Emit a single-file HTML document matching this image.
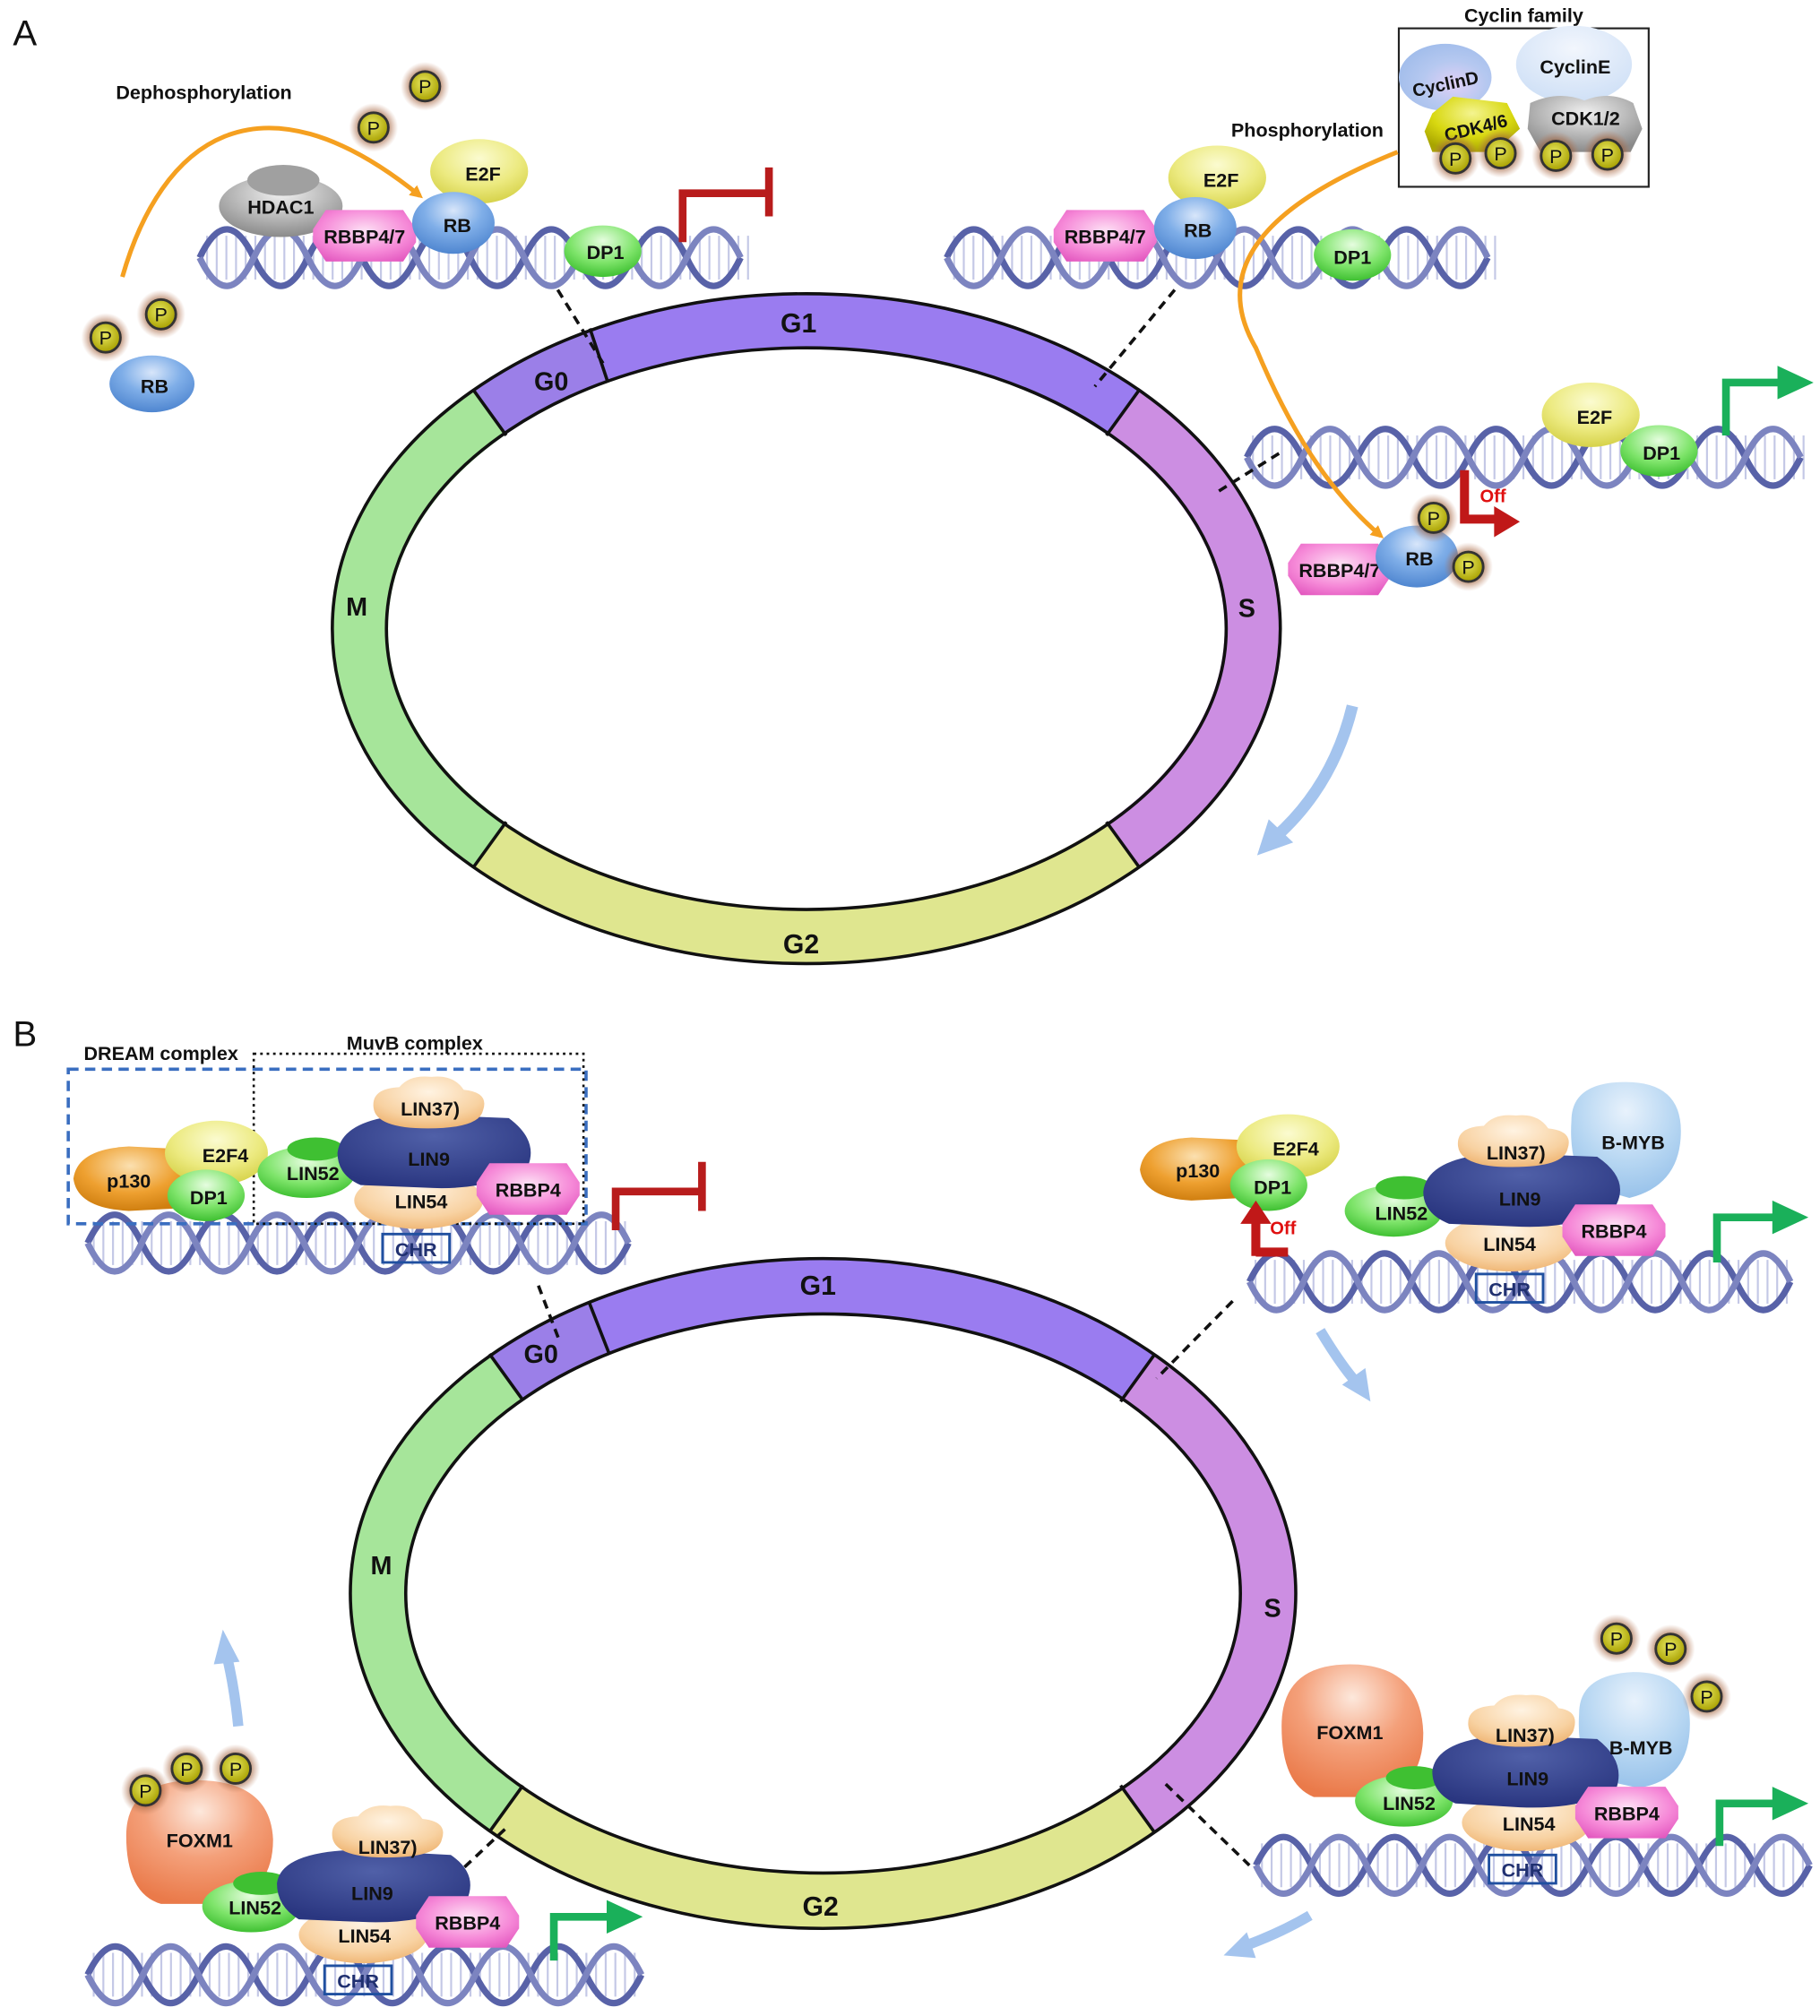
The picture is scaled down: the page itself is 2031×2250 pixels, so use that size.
<!DOCTYPE html>
<html><head><meta charset="utf-8"><style>
html,body{margin:0;padding:0;background:#fff;}
svg{display:block;}
text{font-family:"Liberation Sans",Arial,sans-serif;font-weight:bold;fill:#111;}
</style></head><body>
<svg width="2031" height="2250" viewBox="0 0 1413 1565" preserveAspectRatio="none" xmlns="http://www.w3.org/2000/svg">
<defs>
<radialGradient id="gBlue" cx="50%" cy="30%" r="70%"><stop offset="0" stop-color="#d8e6fa"/><stop offset="0.5" stop-color="#7faee8"/><stop offset="1" stop-color="#4f86d0"/></radialGradient>
<radialGradient id="gYel" cx="50%" cy="30%" r="70%"><stop offset="0" stop-color="#fbfbd0"/><stop offset="0.6" stop-color="#ecea80"/><stop offset="1" stop-color="#d6d24a"/></radialGradient>
<radialGradient id="gGrn" cx="50%" cy="30%" r="70%"><stop offset="0" stop-color="#e6fde0"/><stop offset="0.6" stop-color="#7ee46a"/><stop offset="1" stop-color="#3fc032"/></radialGradient>
<radialGradient id="gGray" cx="50%" cy="30%" r="70%"><stop offset="0" stop-color="#f0f0f0"/><stop offset="0.6" stop-color="#b3b3b3"/><stop offset="1" stop-color="#8a8a8a"/></radialGradient>
<radialGradient id="gPink" cx="50%" cy="40%" r="70%"><stop offset="0" stop-color="#fde0f4"/><stop offset="0.6" stop-color="#f68ad8"/><stop offset="1" stop-color="#e255be"/></radialGradient>
<radialGradient id="gOr" cx="50%" cy="30%" r="70%"><stop offset="0" stop-color="#fbe0b0"/><stop offset="0.6" stop-color="#eea030"/><stop offset="1" stop-color="#d07f10"/></radialGradient>
<radialGradient id="gFox" cx="50%" cy="25%" r="75%"><stop offset="0" stop-color="#fde8dc"/><stop offset="0.5" stop-color="#f4a07a"/><stop offset="1" stop-color="#ea7a4a"/></radialGradient>
<radialGradient id="gPeach" cx="50%" cy="30%" r="70%"><stop offset="0" stop-color="#fff3e2"/><stop offset="0.7" stop-color="#f8d2a2"/><stop offset="1" stop-color="#f0b878"/></radialGradient>
<radialGradient id="gNavy" cx="50%" cy="30%" r="70%"><stop offset="0" stop-color="#5060a8"/><stop offset="1" stop-color="#2a3680"/></radialGradient>
<radialGradient id="gLB" cx="50%" cy="25%" r="75%"><stop offset="0" stop-color="#e8f2fc"/><stop offset="0.6" stop-color="#b6d6f2"/><stop offset="1" stop-color="#98c2ea"/></radialGradient>
<radialGradient id="gLB2" cx="50%" cy="30%" r="70%"><stop offset="0" stop-color="#f2f6fd"/><stop offset="1" stop-color="#cfe0f6"/></radialGradient>
<radialGradient id="gCD" cx="60%" cy="60%" r="70%"><stop offset="0" stop-color="#e0d0f6"/><stop offset="0.5" stop-color="#b5c8f0"/><stop offset="1" stop-color="#9ebbea"/></radialGradient>
<radialGradient id="gCDK" cx="50%" cy="30%" r="70%"><stop offset="0" stop-color="#f4f490"/><stop offset="0.6" stop-color="#d8d810"/><stop offset="1" stop-color="#a8a400"/></radialGradient>
<radialGradient id="gGlow" cx="50%" cy="50%" r="50%"><stop offset="0.45" stop-color="#8a4a20" stop-opacity="0.9"/><stop offset="1" stop-color="#c08060" stop-opacity="0"/></radialGradient>
<radialGradient id="gP" cx="45%" cy="40%" r="60%"><stop offset="0" stop-color="#e8e860"/><stop offset="1" stop-color="#a8a000"/></radialGradient>
<marker id="aOr" markerWidth="10" markerHeight="10" refX="7" refY="5" orient="auto" markerUnits="userSpaceOnUse"><path d="M0,0 L10,5 L0,10 z" fill="#f5a020"/></marker>
<g id="P"><circle r="19" fill="url(#gGlow)"/><circle r="11.5" fill="url(#gP)" stroke="#333" stroke-width="2"/><text y="5.5" text-anchor="middle" font-size="15" style="font-weight:normal">P</text></g>
<g id="hexP"><polygon points="-40,-5 -30,-20 30,-20 40,-5 40,5 30,20 -30,20 -40,5" fill="url(#gPink)"/></g>
</defs>

<!-- ================= PANEL A ================= -->
<text x="10" y="35" font-size="28" style="font-weight:normal">A</text>

<g fill="none" stroke-width="43">
<path d="M380,320 A347,239 0 0 1 465,276" stroke="#9b7fe8"/>
<path d="M465,276 A347,239 0 0 1 872,320" stroke="#9a7cf0"/>
<path d="M872,320 A347,239 0 0 1 872,656" stroke="#cc8ee2"/>
<path d="M872,656 A347,239 0 0 1 380,656" stroke="#dfe68f"/>
<path d="M380,656 A347,239 0 0 1 380,320" stroke="#a6e59a"/>
</g>
<ellipse cx="626" cy="488" rx="368" ry="260" fill="none" stroke="#111" stroke-width="2.5"/>
<ellipse cx="626" cy="488" rx="326" ry="218" fill="none" stroke="#111" stroke-width="2.5"/>
<g stroke="#111" stroke-width="2.5">
<line x1="367" y1="302" x2="393" y2="338"/>
<line x1="458" y1="255" x2="472" y2="297"/>
<line x1="885" y1="302" x2="859" y2="338"/>
<line x1="859" y1="638" x2="885" y2="674"/>
<line x1="393" y1="638" x2="367" y2="674"/>
</g>
<text x="620" y="258" font-size="21" text-anchor="middle">G1</text>
<text x="428" y="303" font-size="20" text-anchor="middle">G0</text>
<text x="277" y="478" font-size="20" text-anchor="middle">M</text>
<text x="968" y="479" font-size="20" text-anchor="middle">S</text>
<text x="622" y="740" font-size="21" text-anchor="middle">G2</text>

<g>
<line x1="160" y1="200" x2="585" y2="200" stroke="#c4c8e6" stroke-width="34" stroke-dasharray="1.5 6"/>
<path d="M155,200 q21,-44 42,0 t42,0 t42,0 t42,0 t42,0 t42,0 t42,0 t42,0 t42,0 t42,0" fill="none" stroke="#5862a8" stroke-width="5"/>
<path d="M155,200 q21,44 42,0 t42,0 t42,0 t42,0 t42,0 t42,0 t42,0 t42,0 t42,0 t42,0" fill="none" stroke="#7c84c0" stroke-width="5"/>
</g>
<g>
<line x1="740" y1="200" x2="1165" y2="200" stroke="#c4c8e6" stroke-width="34" stroke-dasharray="1.5 6"/>
<path d="M735,200 q21,-44 42,0 t42,0 t42,0 t42,0 t42,0 t42,0 t42,0 t42,0 t42,0 t42,0" fill="none" stroke="#5862a8" stroke-width="5"/>
<path d="M735,200 q21,44 42,0 t42,0 t42,0 t42,0 t42,0 t42,0 t42,0 t42,0 t42,0 t42,0" fill="none" stroke="#7c84c0" stroke-width="5"/>
</g>
<g>
<line x1="972" y1="355" x2="1405" y2="355" stroke="#c4c8e6" stroke-width="34" stroke-dasharray="1.5 6"/>
<path d="M968,355 q21.5,-44 43,0 t43,0 t43,0 t43,0 t43,0 t43,0 t43,0 t43,0 t43,0 t43,0" fill="none" stroke="#5862a8" stroke-width="5"/>
<path d="M968,355 q21.5,44 43,0 t43,0 t43,0 t43,0 t43,0 t43,0 t43,0 t43,0 t43,0 t43,0" fill="none" stroke="#7c84c0" stroke-width="5"/>
</g>

<g stroke="#111" stroke-width="2.5" stroke-dasharray="7 5">
<line x1="433" y1="225" x2="470" y2="285"/>
<line x1="912" y1="225" x2="850" y2="300"/>
<line x1="993" y1="352" x2="945" y2="382"/>
</g>

<text x="90" y="77" font-size="15">Dephosphorylation</text>
<path d="M95,215 C125,110 200,50 326,152" fill="none" stroke="#f5a020" stroke-width="3.5" marker-end="url(#aOr)"/>
<use href="#P" x="330" y="67"/><use href="#P" x="290" y="99"/>
<use href="#P" x="82" y="262"/><use href="#P" x="125" y="244"/>
<ellipse cx="118" cy="298" rx="33" ry="22" fill="url(#gBlue)"/><text x="120" y="305" font-size="15" text-anchor="middle">RB</text>

<ellipse cx="218" cy="160" rx="48" ry="24" fill="url(#gGray)"/><ellipse cx="220" cy="140" rx="28" ry="12" fill="#a0a0a0"/>
<text x="218" y="166" font-size="15" text-anchor="middle">HDAC1</text>
<ellipse cx="372" cy="133" rx="38" ry="25" fill="url(#gYel)"/><text x="375" y="140" font-size="15" text-anchor="middle">E2F</text>
<use href="#hexP" x="283" y="183"/><text x="283" y="189" font-size="15" text-anchor="middle">RBBP4/7</text>
<ellipse cx="352" cy="173" rx="32" ry="24" fill="url(#gBlue)"/><text x="355" y="180" font-size="15" text-anchor="middle">RB</text>
<ellipse cx="468" cy="195" rx="30" ry="20" fill="url(#gGrn)"/><text x="470" y="201" font-size="15" text-anchor="middle">DP1</text>
<path d="M530,188 V150 H597 M597,130 V168" fill="none" stroke="#b81c1c" stroke-width="6"/>

<ellipse cx="945" cy="138" rx="38" ry="25" fill="url(#gYel)"/><text x="948" y="145" font-size="15" text-anchor="middle">E2F</text>
<use href="#hexP" x="858" y="183"/><text x="858" y="189" font-size="15" text-anchor="middle">RBBP4/7</text>
<ellipse cx="928" cy="177" rx="32" ry="24" fill="url(#gBlue)"/><text x="930" y="184" font-size="15" text-anchor="middle">RB</text>
<ellipse cx="1050" cy="198" rx="30" ry="20" fill="url(#gGrn)"/><text x="1050" y="205" font-size="15" text-anchor="middle">DP1</text>

<text x="1183" y="17" font-size="15" text-anchor="middle">Cyclin family</text>
<rect x="1086" y="22" width="194" height="123" fill="none" stroke="#222" stroke-width="1.5"/>
<ellipse cx="1122" cy="60" rx="36" ry="26" fill="url(#gCD)"/>
<text x="1122" y="70" font-size="14" text-anchor="middle" transform="rotate(-12 1122 64)">CyclinD</text>
<polygon points="1112,88 1128,75 1170,80 1180,100 1160,118 1112,118 1106,102" fill="url(#gCDK)"/>
<text x="1146" y="104" font-size="14" text-anchor="middle" transform="rotate(-14 1146 100)">CDK4/6</text>
<ellipse cx="1222" cy="50" rx="45" ry="30" fill="url(#gLB2)"/><text x="1223" y="57" font-size="15" text-anchor="middle">CyclinE</text>
<path d="M1188,80 Q1210,70 1230,78 Q1250,70 1268,80 L1275,100 L1266,118 L1196,118 L1186,100 z" fill="url(#gGray)"/>
<text x="1231" y="97" font-size="15" text-anchor="middle">CDK1/2</text>
<use href="#P" x="1130" y="123"/><use href="#P" x="1165" y="119"/><use href="#P" x="1208" y="121"/><use href="#P" x="1248" y="120"/>

<text x="1015" y="106" font-size="15" text-anchor="middle">Phosphorylation</text>
<path d="M1085,118 C980,160 940,210 975,270 C1000,330 1030,380 1072,416" fill="none" stroke="#f5a020" stroke-width="3.5" marker-end="url(#aOr)"/>

<ellipse cx="1235" cy="322" rx="38" ry="25" fill="url(#gYel)"/><text x="1238" y="329" font-size="15" text-anchor="middle">E2F</text>
<ellipse cx="1288" cy="350" rx="30" ry="20" fill="url(#gGrn)"/><text x="1290" y="357" font-size="15" text-anchor="middle">DP1</text>
<path d="M1340,338 V297 H1385" fill="none" stroke="#1ab05a" stroke-width="6"/>
<path d="M1380,284 L1408,297 L1380,310 z" fill="#1ab05a"/>
<use href="#hexP" x="1040" y="442"/><text x="1040" y="448" font-size="15" text-anchor="middle">RBBP4/7</text>
<ellipse cx="1100" cy="432" rx="32" ry="24" fill="url(#gBlue)"/><text x="1102" y="439" font-size="15" text-anchor="middle">RB</text>
<use href="#P" x="1113" y="402"/><use href="#P" x="1140" y="440"/>
<path d="M1137,365 V403 H1163" fill="none" stroke="#c01818" stroke-width="7"/>
<path d="M1160,393 L1180,405 L1160,417 z" fill="#c01818"/>
<text x="1149" y="390" font-size="14" style="fill:#e01010">Off</text>

<path d="M1050,548 Q1035,610 990,650" fill="none" stroke="#a4c4ee" stroke-width="9"/>
<path d="M976,664 L985,636 L1004,654 z" fill="#a4c4ee"/>

<!-- ================= PANEL B ================= -->
<text x="10" y="812" font-size="28" style="font-weight:normal">B</text>

<g fill="none" stroke-width="43">
<path d="M393,1069 A345,238 0 0 1 465,1030" stroke="#9b7fe8"/>
<path d="M465,1030 A345,238 0 0 1 883,1069" stroke="#9a7cf0"/>
<path d="M883,1069 A345,238 0 0 1 883,1405" stroke="#cc8ee2"/>
<path d="M883,1405 A345,238 0 0 1 393,1405" stroke="#dfe68f"/>
<path d="M393,1405 A345,238 0 0 1 393,1069" stroke="#a6e59a"/>
</g>
<ellipse cx="639" cy="1237" rx="367" ry="260" fill="none" stroke="#111" stroke-width="2.5"/>
<ellipse cx="639" cy="1237" rx="324" ry="217" fill="none" stroke="#111" stroke-width="2.5"/>
<g stroke="#111" stroke-width="2.5">
<line x1="380" y1="1051" x2="406" y2="1087"/>
<line x1="457" y1="1010" x2="473" y2="1051"/>
<line x1="896" y1="1052" x2="870" y2="1088"/>
<line x1="870" y1="1386" x2="896" y2="1422"/>
<line x1="406" y1="1386" x2="380" y2="1422"/>
</g>
<text x="635" y="1005" font-size="21" text-anchor="middle">G1</text>
<text x="420" y="1058" font-size="20" text-anchor="middle">G0</text>
<text x="296" y="1222" font-size="20" text-anchor="middle">M</text>
<text x="988" y="1255" font-size="20" text-anchor="middle">S</text>
<text x="637" y="1487" font-size="21" text-anchor="middle">G2</text>

<g>
<line x1="72" y1="965" x2="490" y2="965" stroke="#c4c8e6" stroke-width="34" stroke-dasharray="1.5 6"/>
<path d="M68,965 q21,-44 42,0 t42,0 t42,0 t42,0 t42,0 t42,0 t42,0 t42,0 t42,0 t42,0" fill="none" stroke="#5862a8" stroke-width="5"/>
<path d="M68,965 q21,44 42,0 t42,0 t42,0 t42,0 t42,0 t42,0 t42,0 t42,0 t42,0 t42,0" fill="none" stroke="#7c84c0" stroke-width="5"/>
</g>
<g>
<line x1="974" y1="995" x2="1390" y2="995" stroke="#c4c8e6" stroke-width="34" stroke-dasharray="1.5 6"/>
<path d="M970,995 q21,-44 42,0 t42,0 t42,0 t42,0 t42,0 t42,0 t42,0 t42,0 t42,0 t42,0" fill="none" stroke="#5862a8" stroke-width="5"/>
<path d="M970,995 q21,44 42,0 t42,0 t42,0 t42,0 t42,0 t42,0 t42,0 t42,0 t42,0 t42,0" fill="none" stroke="#7c84c0" stroke-width="5"/>
</g>
<g>
<line x1="979" y1="1448" x2="1405" y2="1448" stroke="#c4c8e6" stroke-width="34" stroke-dasharray="1.5 6"/>
<path d="M975,1448 q21.5,-44 43,0 t43,0 t43,0 t43,0 t43,0 t43,0 t43,0 t43,0 t43,0 t43,0" fill="none" stroke="#5862a8" stroke-width="5"/>
<path d="M975,1448 q21.5,44 43,0 t43,0 t43,0 t43,0 t43,0 t43,0 t43,0 t43,0 t43,0 t43,0" fill="none" stroke="#7c84c0" stroke-width="5"/>
</g>
<g>
<line x1="72" y1="1533" x2="495" y2="1533" stroke="#c4c8e6" stroke-width="34" stroke-dasharray="1.5 6"/>
<path d="M68,1533 q21.5,-44 43,0 t43,0 t43,0 t43,0 t43,0 t43,0 t43,0 t43,0 t43,0 t43,0" fill="none" stroke="#5862a8" stroke-width="5"/>
<path d="M68,1533 q21.5,44 43,0 t43,0 t43,0 t43,0 t43,0 t43,0 t43,0 t43,0 t43,0 t43,0" fill="none" stroke="#7c84c0" stroke-width="5"/>
</g>

<g stroke="#111" stroke-width="2.5" stroke-dasharray="7 5">
<line x1="418" y1="998" x2="434" y2="1040"/>
<line x1="957" y1="1010" x2="898" y2="1070"/>
<line x1="905" y1="1385" x2="970" y2="1448"/>
<line x1="392" y1="1420" x2="360" y2="1450"/>
</g>

<rect x="53" y="830" width="402" height="120" fill="none" stroke="#3a6ec0" stroke-width="2.5" stroke-dasharray="8 5"/>
<rect x="197" y="818" width="256" height="132" fill="none" stroke="#111" stroke-width="1.8" stroke-dasharray="2 3"/>
<text x="125" y="823" font-size="15" text-anchor="middle">DREAM complex</text>
<text x="322" y="815" font-size="15" text-anchor="middle">MuvB complex</text>
<path d="M57,915 Q60,892 100,890 L140,892 Q150,915 140,938 L100,940 Q60,938 57,915 z" fill="url(#gOr)"/>
<text x="100" y="922" font-size="15" text-anchor="middle">p130</text>
<ellipse cx="168" cy="895" rx="40" ry="25" fill="url(#gYel)"/><text x="175" y="902" font-size="15" text-anchor="middle">E2F4</text>
<ellipse cx="160" cy="928" rx="30" ry="20" fill="url(#gGrn)"/><text x="162" y="935" font-size="15" text-anchor="middle">DP1</text>
<ellipse cx="238" cy="910" rx="38" ry="20" fill="url(#gGrn)"/><ellipse cx="245" cy="892" rx="22" ry="9" fill="#3fc032"/>
<text x="243" y="916" font-size="15" text-anchor="middle">LIN52</text>
<ellipse cx="325" cy="932" rx="50" ry="22" fill="url(#gPeach)"/>
<path d="M262,895 Q265,868 320,865 L395,868 Q418,885 410,905 Q380,925 330,922 L280,920 Q262,912 262,895 z" fill="url(#gNavy)"/>
<path d="M290,860 Q288,845 310,844 Q318,834 335,836 Q352,834 360,846 Q380,848 375,862 Q372,876 332,876 Q292,876 290,860 z" fill="url(#gPeach)"/>
<text x="334" y="866" font-size="15" text-anchor="middle">LIN37)</text>
<text x="333" y="905" font-size="15" text-anchor="middle">LIN9</text>
<text x="327" y="938" font-size="15" text-anchor="middle">LIN54</text>
<use href="#hexP" x="410" y="923"/><text x="410" y="929" font-size="15" text-anchor="middle">RBBP4</text>
<rect x="297" y="958" width="52" height="22" fill="none" stroke="#2050a0" stroke-width="2"/><text x="323" y="975" font-size="15" text-anchor="middle" style="fill:#203070">CHR</text>
<path d="M478,955 V925 H545 M545,902 V940" fill="none" stroke="#b81c1c" stroke-width="6"/>

<path d="M885,908 Q888,885 925,883 L965,885 Q975,908 965,930 L925,932 Q888,930 885,908 z" fill="url(#gOr)"/>
<text x="930" y="914" font-size="15" text-anchor="middle">p130</text>
<ellipse cx="1000" cy="890" rx="40" ry="25" fill="url(#gYel)"/><text x="1006" y="897" font-size="15" text-anchor="middle">E2F4</text>
<ellipse cx="985" cy="920" rx="30" ry="20" fill="url(#gGrn)"/><text x="988" y="927" font-size="15" text-anchor="middle">DP1</text>
<path d="M975,975 V948" fill="none" stroke="#c01818" stroke-width="7"/><path d="M963,950 L975,932 L987,950 z" fill="#c01818"/>
<path d="M975,972 H1000" fill="none" stroke="#c01818" stroke-width="7"/>
<text x="986" y="958" font-size="14" style="fill:#e01010">Off</text>
<path d="M1220,870 Q1220,840 1262,840 Q1305,840 1305,878 Q1305,920 1265,930 L1230,920 Q1218,900 1220,870 z" fill="url(#gLB)"/>
<text x="1268" y="892" font-size="15" text-anchor="middle">B-MYB</text>
<ellipse cx="1082" cy="940" rx="38" ry="20" fill="url(#gGrn)"/><ellipse cx="1090" cy="922" rx="22" ry="9" fill="#3fc032"/>
<text x="1088" y="947" font-size="15" text-anchor="middle">LIN52</text>
<ellipse cx="1172" cy="965" rx="50" ry="22" fill="url(#gPeach)"/>
<path d="M1105,925 Q1108,898 1165,895 L1240,898 Q1265,915 1255,935 Q1225,955 1175,952 L1125,950 Q1105,942 1105,925 z" fill="url(#gNavy)"/>
<path d="M1132,890 Q1130,875 1152,874 Q1160,864 1177,866 Q1194,864 1202,876 Q1222,878 1217,892 Q1214,906 1174,906 Q1134,906 1132,890 z" fill="url(#gPeach)"/>
<text x="1177" y="900" font-size="15" text-anchor="middle">LIN37)</text>
<text x="1180" y="936" font-size="15" text-anchor="middle">LIN9</text>
<text x="1172" y="971" font-size="15" text-anchor="middle">LIN54</text>
<use href="#hexP" x="1253" y="955"/><text x="1253" y="961" font-size="15" text-anchor="middle">RBBP4</text>
<rect x="1146" y="989" width="52" height="22" fill="none" stroke="#2050a0" stroke-width="2"/><text x="1172" y="1006" font-size="15" text-anchor="middle" style="fill:#203070">CHR</text>
<path d="M1333,980 V945 H1380" fill="none" stroke="#1ab05a" stroke-width="6"/>
<path d="M1376,932 L1404,945 L1376,958 z" fill="#1ab05a"/>
<path d="M1025,1033 Q1040,1058 1052,1072" fill="none" stroke="#a4c4ee" stroke-width="8"/>
<path d="M1064,1088 L1042,1075 L1060,1062 z" fill="#a4c4ee"/>

<path d="M995,1340 Q995,1292 1048,1292 Q1103,1292 1105,1345 Q1105,1390 1065,1395 L1020,1395 Q995,1385 995,1340 z" fill="url(#gFox)"/>
<text x="1048" y="1350" font-size="15" text-anchor="middle">FOXM1</text>
<path d="M1226,1330 Q1226,1300 1268,1298 Q1312,1298 1312,1338 Q1312,1382 1272,1388 L1236,1380 Q1224,1360 1226,1330 z" fill="url(#gLB)"/>
<use href="#P" x="1255" y="1272"/><use href="#P" x="1297" y="1280"/><use href="#P" x="1325" y="1317"/>
<ellipse cx="1090" cy="1398" rx="38" ry="20" fill="url(#gGrn)"/><ellipse cx="1098" cy="1380" rx="22" ry="9" fill="#3fc032"/>
<text x="1094" y="1405" font-size="15" text-anchor="middle">LIN52</text>
<ellipse cx="1185" cy="1415" rx="50" ry="22" fill="url(#gPeach)"/>
<path d="M1112,1375 Q1115,1350 1170,1347 L1240,1350 Q1262,1367 1255,1388 Q1230,1405 1180,1403 L1130,1400 Q1112,1392 1112,1375 z" fill="url(#gNavy)"/>
<path d="M1140,1340 Q1138,1325 1160,1324 Q1168,1314 1185,1316 Q1202,1314 1210,1326 Q1226,1328 1222,1342 Q1219,1356 1182,1356 Q1142,1356 1140,1340 z" fill="url(#gPeach)"/>
<text x="1274" y="1362" font-size="15" text-anchor="middle">B-MYB</text>
<text x="1184" y="1352" font-size="15" text-anchor="middle">LIN37)</text>
<text x="1186" y="1386" font-size="15" text-anchor="middle">LIN9</text>
<text x="1187" y="1421" font-size="15" text-anchor="middle">LIN54</text>
<use href="#hexP" x="1263" y="1407"/><text x="1263" y="1413" font-size="15" text-anchor="middle">RBBP4</text>
<rect x="1156" y="1440" width="52" height="22" fill="none" stroke="#2050a0" stroke-width="2"/><text x="1182" y="1457" font-size="15" text-anchor="middle" style="fill:#203070">CHR</text>
<path d="M1335,1433 V1400 H1380" fill="none" stroke="#1ab05a" stroke-width="6"/>
<path d="M1376,1387 L1404,1400 L1376,1413 z" fill="#1ab05a"/>
<path d="M1017,1487 Q995,1500 968,1510" fill="none" stroke="#a4c4ee" stroke-width="8"/>
<path d="M950,1518 L968,1500 L975,1520 z" fill="#a4c4ee"/>

<path d="M98,1425 Q98,1382 152,1382 Q210,1382 212,1428 Q212,1470 172,1478 L125,1478 Q98,1470 98,1425 z" fill="url(#gFox)"/>
<text x="155" y="1434" font-size="15" text-anchor="middle">FOXM1</text>
<use href="#P" x="113" y="1390"/><use href="#P" x="145" y="1373"/><use href="#P" x="183" y="1373"/>
<ellipse cx="195" cy="1480" rx="38" ry="20" fill="url(#gGrn)"/><ellipse cx="203" cy="1462" rx="22" ry="9" fill="#3fc032"/>
<text x="198" y="1486" font-size="15" text-anchor="middle">LIN52</text>
<ellipse cx="282" cy="1502" rx="50" ry="22" fill="url(#gPeach)"/>
<path d="M215,1462 Q218,1438 275,1436 L350,1440 Q372,1455 362,1476 Q332,1494 282,1492 L232,1490 Q215,1480 215,1462 z" fill="url(#gNavy)"/>
<path d="M258,1426 Q256,1411 278,1410 Q286,1400 303,1402 Q320,1400 328,1412 Q348,1414 343,1428 Q340,1442 300,1442 Q260,1442 258,1426 z" fill="url(#gPeach)"/>
<text x="301" y="1439" font-size="15" text-anchor="middle">LIN37)</text>
<text x="289" y="1475" font-size="15" text-anchor="middle">LIN9</text>
<text x="283" y="1508" font-size="15" text-anchor="middle">LIN54</text>
<use href="#hexP" x="363" y="1492"/><text x="363" y="1498" font-size="15" text-anchor="middle">RBBP4</text>
<rect x="252" y="1526" width="52" height="22" fill="none" stroke="#2050a0" stroke-width="2"/><text x="278" y="1543" font-size="15" text-anchor="middle" style="fill:#203070">CHR</text>
<path d="M430,1522 V1488 H475" fill="none" stroke="#1ab05a" stroke-width="6"/>
<path d="M471,1475 L499,1488 L471,1501 z" fill="#1ab05a"/>
<path d="M185,1340 Q182,1310 176,1285" fill="none" stroke="#a4c4ee" stroke-width="8"/>
<path d="M173,1265 L186,1290 L166,1292 z" fill="#a4c4ee"/>
</svg>
</body></html>
